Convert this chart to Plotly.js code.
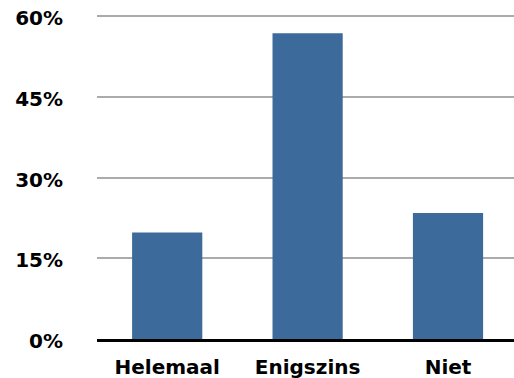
<!DOCTYPE html>
<html>
<head>
<meta charset="utf-8">
<script src="https://cdn.plot.ly/plotly-3.0.1.min.js"></script>
<style>html,body{margin:0;padding:0;background:#fff;}</style>
</head>
<body>
<div id="chart" style="width:514px;height:378px;"></div>
<script>
const categories = ["Helemaal", "Enigszins", "Niet"];
const values = [19.8, 56.8, 23.4];
const yTicks = [0, 15, 30, 45, 60];
const yTickLabels = ["0%", "15%", "30%", "45%", "60%"];

const font = {family: "DejaVu Sans", size: 20, color: "#000"};

Plotly.newPlot("chart", [{
  type: "bar",
  x: categories,
  y: values,
  marker: {color: "#3c6a9a"},
  hoverinfo: "none"
}], {
  width: 514, height: 378,
  margin: {l: 97, r: 0, t: 15, b: 39, pad: 0},
  paper_bgcolor: "#fff", plot_bgcolor: "#fff",
  bargap: 0.5,
  showlegend: false,
  xaxis: {
    range: [-0.5, 2.47],
    showline: true, linecolor: "#000", linewidth: 3,
    showgrid: false, ticks: "",
    tickfont: Object.assign({}, font, {weight: "bold"}),
    ticklabelstandoff: 8
  },
  yaxis: {
    range: [0, 60.2],
    tickvals: yTicks, ticktext: yTickLabels,
    showgrid: true, gridcolor: "#ababab", gridwidth: 2,
    zeroline: false, showline: false, ticks: "",
    tickfont: Object.assign({}, font, {weight: "bold"}),
    ticklabelstandoff: 33,
    ticklabelshift: 2
  }
}, {staticPlot: true});
</script>
</body>
</html>
